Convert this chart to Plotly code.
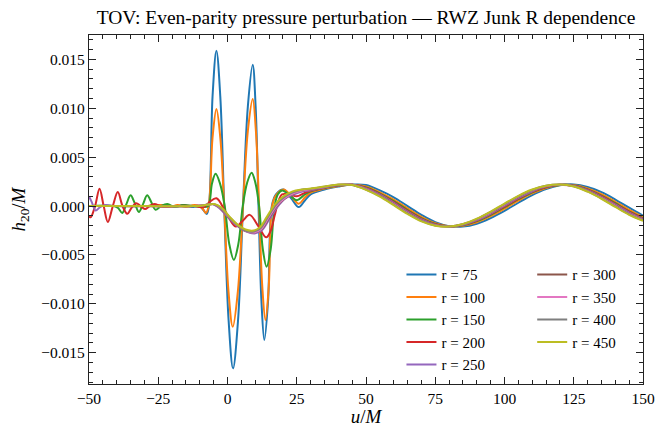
import plotly.graph_objects as go

# ---------------- data ----------------
radii = [75, 100, 150, 200, 250, 300, 350, 400, 450]
colors = ["#1f77b4", "#ff7f0e", "#2ca02c", "#d62728", "#9467bd",
          "#8c564b", "#e377c2", "#7f7f7f", "#bcbd22"]

# early / burst part (u < 30)
u_r75 = [-50, -40, -30, -22, -19, -16, -13, -10, -8.7, -7.5, -6.7, -5.4, -4.0, -2.6, -1.2, 0.4, 2.0, 3.8, 5.6,
         7.35, 9.1, 10.15, 11.2, 12.25, 13.3, 14.65, 16.0, 17.5, 20.2, 23.0, 25.7, 28.0]
h_r75 = [0, 0, 0, 0.0001, -0.0001, 0.0001, -0.0001, 0.0, -0.0004, -0.0008, 0.0, 0.0112, 0.0159, 0.0112, 0.0,
         -0.0117, -0.0166, -0.0117, 0.0, 0.0102, 0.01446, 0.0102, 0.0, -0.0097, -0.0137, -0.0097, 0.0, 0.0012,
         0.0017, 0.0008, -0.0001, 0.0006]

u_r100 = [-50, -40, -30, -24, -21, -18, -15, -12, -10, -8.9, -7.8, -6.8, -5.4, -4.0, -2.6, -1.2, 0.35, 1.9, 3.75,
          5.6, 7.35, 9.1, 10.25, 11.4, 12.55, 13.7, 14.9, 16.1, 17.5, 20.3, 23.0, 25.7, 28.0]
h_r100 = [0, 0, 0, 0.0001, -0.0001, 0.0001, -0.0001, 0.0001, 0.0, -0.0003, -0.0007, 0.0, 0.0070, 0.00994, 0.0070,
          0.0, -0.0087, -0.01235, -0.0087, 0.0, 0.0077, 0.01096, 0.0077, 0.0, -0.0082, -0.01166, -0.0082, 0.0,
          0.0011, 0.0017, 0.0010, 0.00024, 0.0009]

u_r150 = [-50, -41, -39.5, -38, -36.5, -35, -33.5, -32, -30.5, -29, -27.5, -26, -24, -21.7, -19, -16, -12, -9,
          -7.0, -5.6, -4.3, -2.7, -1.0, 0.65, 2.3, 3.9, 5.5, 7.1, 8.7, 10.05, 11.4, 12.75, 14.1, 15.6, 17.0, 18.2,
          19.7, 22.5, 25.1, 27.5]
h_r150 = [0, 0, -0.0002, -0.0007, 0.0002, 0.0011, 0.0003, -0.0006, 0.0002, 0.0011, 0.0004, -0.00037, 0.0, 0.0002,
          -0.0001, 0.0001, 0.0, -0.0001, 0.0, 0.0023, 0.0033, 0.0023, 0.0, -0.0039, -0.0055, -0.0039, 0.0, 0.0024,
          0.0034, 0.0024, 0.0, -0.0044, -0.0062, -0.0044, 0.0, 0.0012, 0.0016, 0.0011, 0.0006, 0.0011]

u_r200 = [-50, -49.4, -47.8, -46.2, -44.7, -43.2, -41.4, -39.6, -37.9, -36.2, -34.7, -33.0, -31.4, -29.8, -28.1,
          -26.5, -23.2, -19, -12, -8.5, -6.5, -4.0, -0.5, 3.0, 5.5, 8.0, 11.0, 14.0, 15.5, 17.0, 18.5, 19.7, 22.3,
          25.0, 27.5]
h_r200 = [-0.00105, -0.00115, 0.0, 0.00177, 0.0, -0.00163, 0.0, 0.00143, 0.0, -0.00078, -0.0002, 0.0003, 0.0,
          -0.0003, 0.0, 0.0002, -0.0001, 0.0, 0.0, -0.0001, 0.0004, 0.0008, -0.0007, -0.0021, -0.0015, -0.0009,
          -0.0020, -0.0032, -0.0026, -0.0010, 0.0006, 0.0012, 0.0012, 0.0010, 0.0013]

u_r250 = [-50, -49, -47.6, -46, -44, -41, -30, -12, -8, -5.5, -3, 0, 3, 6, 9.8, 12.3, 15, 18, 21, 24, 27]
h_r250 = [0.0010, 0.0004, -0.00045, -0.0001, 0.0001, 0.0, 0.0, 0.0, 0.0001, 0.0002, -0.0002, -0.0011, -0.0019,
          -0.0025, -0.0028, -0.0025, -0.0014, -0.0001, 0.0008, 0.0012, 0.0015]

u_r300 = [-50, -30, -12, -8, -5.2, -2.7, 0.3, 3.3, 6.2, 9.7, 12.2, 14.8, 17.8, 20.8, 24, 27]
h_r300 = [0.0, 0.0, 0.0, 0.0001, 0.0002, -0.0002, -0.0011, -0.0019, -0.0025, -0.0027, -0.0024, -0.0013, 0.0,
          0.0008, 0.0013, 0.0016]

u_r350 = [-50, -30, -12, -8, -5.0, -2.5, 0.5, 3.4, 6.3, 9.6, 12.0, 14.6, 17.6, 20.6, 23.8, 27]
h_r350 = [0.0, 0.0, 0.0, 0.0001, 0.0002, -0.0002, -0.0011, -0.0019, -0.0025, -0.0027, -0.0024, -0.0013, 0.0,
          0.0008, 0.0013, 0.0016]

u_r400 = [-50, -30, -12, -8, -4.8, -2.3, 0.6, 3.5, 6.4, 9.5, 11.8, 14.4, 17.4, 20.4, 23.6, 27]
h_r400 = [0.0, 0.0, 0.0, 0.0001, 0.0002, -0.0002, -0.0011, -0.0019, -0.0025, -0.0026, -0.0023, -0.0012, 0.0001,
          0.0009, 0.0014, 0.0017]

u_r450 = [-50, -30, -12, -8, -4.5, -2.0, 0.8, 3.6, 6.5, 9.4, 11.6, 14.2, 17.2, 20.2, 23.5, 27]
h_r450 = [0.0, 0.0, 0.0, 0.0001, 0.0002, -0.0002, -0.0011, -0.0019, -0.0024, -0.0025, -0.0022, -0.0011, 0.0002,
          0.0010, 0.0015, 0.0017]

# late-time part (u >= 30), sampled every 5 M
u_late = [30, 35, 40, 45, 50, 55, 60, 65, 70, 75, 80, 85, 90, 95, 100, 105, 110, 115, 120, 125, 130, 135, 140,
          145, 150]
hl_r75 = [0.00120, 0.00170, 0.00200, 0.00220, 0.00215, 0.00160, 0.00090, 0.00000, -0.00090, -0.00164, -0.00205,
          -0.00209, -0.00180, -0.00123, -0.00049, 0.00034, 0.00113, 0.00175, 0.00213, 0.00221, 0.00196, 0.00142,
          0.00067, -0.00017, -0.00097]
hl_r100 = [0.00138, 0.00179, 0.00206, 0.00219, 0.00200, 0.00141, 0.00066, -0.00024, -0.00110, -0.00175, -0.00206,
           -0.00201, -0.00165, -0.00103, -0.00026, 0.00055, 0.00130, 0.00185, 0.00215, 0.00215, 0.00181, 0.00122,
           0.00044, -0.00039, -0.00113]
hl_r150 = [0.00150, 0.00185, 0.00210, 0.00218, 0.00190, 0.00128, 0.00050, -0.00040, -0.00123, -0.00182, -0.00207,
           -0.00196, -0.00154, -0.00090, -0.00011, 0.00070, 0.00141, 0.00192, 0.00216, 0.00211, 0.00171, 0.00108,
           0.00029, -0.00053, -0.00123]
hl_r200 = [0.00156, 0.00188, 0.00212, 0.00218, 0.00186, 0.00122, 0.00041, -0.00049, -0.00130, -0.00186, -0.00207,
           -0.00193, -0.00149, -0.00083, -0.00004, 0.00077, 0.00147, 0.00195, 0.00217, 0.00209, 0.00167, 0.00102,
           0.00021, -0.00060, -0.00129]
hl_r250 = [0.00162, 0.00191, 0.00214, 0.00217, 0.00181, 0.00116, 0.00033, -0.00057, -0.00137, -0.00190, -0.00208,
           -0.00191, -0.00144, -0.00076, 0.00004, 0.00084, 0.00152, 0.00199, 0.00218, 0.00207, 0.00162, 0.00095,
           0.00014, -0.00067, -0.00134]
hl_r300 = [0.00168, 0.00194, 0.00216, 0.00217, 0.00176, 0.00110, 0.00025, -0.00065, -0.00144, -0.00194, -0.00208,
           -0.00188, -0.00139, -0.00069, 0.00011, 0.00091, 0.00158, 0.00202, 0.00219, 0.00205, 0.00157, 0.00088,
           0.00006, -0.00075, -0.00139]
hl_r350 = [0.00172, 0.00196, 0.00217, 0.00217, 0.00172, 0.00105, 0.00020, -0.00070, -0.00148, -0.00196, -0.00208,
           -0.00186, -0.00136, -0.00065, 0.00016, 0.00096, 0.00162, 0.00205, 0.00219, 0.00204, 0.00153, 0.00084,
           0.00001, -0.00080, -0.00143]
hl_r400 = [0.00176, 0.00198, 0.00219, 0.00216, 0.00169, 0.00101, 0.00015, -0.00075, -0.00152, -0.00198, -0.00209,
           -0.00185, -0.00133, -0.00061, 0.00021, 0.00100, 0.00165, 0.00207, 0.00220, 0.00202, 0.00150, 0.00080,
           -0.00004, -0.00084, -0.00146]
hl_r450 = [0.00180, 0.00200, 0.00220, 0.00216, 0.00166, 0.00097, 0.00009, -0.00081, -0.00157, -0.00201, -0.00209,
           -0.00183, -0.00129, -0.00056, 0.00026, 0.00105, 0.00169, 0.00209, 0.00220, 0.00201, 0.00147, 0.00075,
           -0.00009, -0.00089, -0.00150]

early_u = [u_r75, u_r100, u_r150, u_r200, u_r250, u_r300, u_r350, u_r400, u_r450]
early_h = [h_r75, h_r100, h_r150, h_r200, h_r250, h_r300, h_r350, h_r400, h_r450]
late_h = [hl_r75, hl_r100, hl_r150, hl_r200, hl_r250, hl_r300, hl_r350, hl_r400, hl_r450]

x_ticks = [-50, -25, 0, 25, 50, 75, 100, 125, 150]
y_ticks = [-0.015, -0.010, -0.005, 0.000, 0.005, 0.010, 0.015]

FONT = "Liberation Serif, DejaVu Serif, serif"

fig = go.Figure()
for i, r in enumerate(radii):
    fig.add_trace(go.Scatter(
        x=early_u[i] + u_late, y=early_h[i] + late_h[i], mode="lines",
        line=dict(color=colors[i], width=2, shape="spline", smoothing=1.0),
        name=f"r = {r}",
        legend="legend" if i < 5 else "legend2",
    ))

axis_common = dict(
    showline=True, linecolor="#222", linewidth=1.2, mirror="allticks",
    ticks="inside", ticklen=7, tickwidth=1.2, tickcolor="#222",
    showgrid=False, zeroline=False, automargin=False,
    tickfont=dict(family=FONT, size=15.5, color="black"),
)

fig.update_xaxes(
    range=[-50, 150], tickvals=x_ticks,
    minor=dict(ticks="inside", ticklen=4, tickwidth=1, tickcolor="#222", dtick=5, showgrid=False),
    title=dict(text="<i>u</i>/<i>M</i>", font=dict(family=FONT, size=19, color="black"), standoff=4),
    **axis_common,
)
fig.update_yaxes(
    range=[-0.0182, 0.0175], tickvals=y_ticks, tickformat=".3f",
    minor=dict(ticks="inside", ticklen=4, tickwidth=1, tickcolor="#222", dtick=0.001, showgrid=False),
    title=dict(text="<i>h</i><sub>20</sub>/<i>M</i>", font=dict(family=FONT, size=19, color="black"), standoff=10),
    **axis_common,
)

leg_common = dict(
    bgcolor="rgba(0,0,0,0)", borderwidth=0,
    font=dict(family=FONT, size=15, color="black"),
    xanchor="left", yanchor="top", orientation="v", tracegroupgap=0,
)
fig.update_layout(
    width=655, height=427,
    margin=dict(l=89, r=12, t=35, b=43, autoexpand=False),
    paper_bgcolor="white", plot_bgcolor="white",
    title=dict(text="TOV: Even-parity pressure perturbation — RWZ Junk R dependence",
               font=dict(family=FONT, size=19.5, color="black"),
               x=0.5, xref="paper", xanchor="center", y=1 - 17 / 427, yanchor="middle"),
    legend=dict(x=0.564, y=0.36, **leg_common),
    legend2=dict(x=0.80, y=0.36, **leg_common),
    showlegend=True,
)

fig.write_html("out.html")
